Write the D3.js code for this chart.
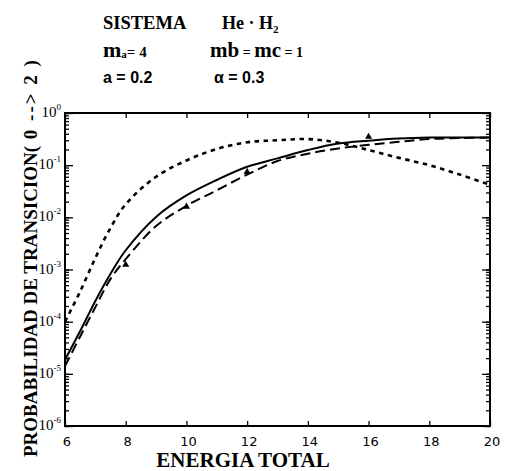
<!DOCTYPE html>
<html><head><meta charset="utf-8">
<script src="https://cdn.jsdelivr.net/npm/d3@7"></script>
<style>body{margin:0;background:#fff}</style>
</head><body>
<svg id="c" width="506" height="471"></svg>
<script>
const xTicks = [6, 8, 10, 12, 14, 16, 18, 20];
const yExps = [0, -1, -2, -3, -4, -5, -6];

const solidX = [6, 6.5, 7, 7.5, 8, 9, 10, 11, 12, 13, 14, 15, 16, 17, 18, 19, 20];
const solidY = [1.86e-5, 6.6e-5, 2.5e-4, 8.3e-4, 2.34e-3, 1.02e-2, 2.63e-2, 5.2e-2, 9.3e-2, 0.135, 0.195, 0.26, 0.295, 0.324, 0.339, 0.339, 0.339];

const longX = [6, 6.5, 7, 7.5, 8, 9, 10, 11, 12, 13, 14, 15, 16, 17, 18, 19, 20];
const longY = [1.41e-5, 5.2e-5, 1.9e-4, 6.6e-4, 1.58e-3, 6.8e-3, 1.66e-2, 3.3e-2, 6.6e-2, 0.12, 0.166, 0.209, 0.245, 0.28, 0.316, 0.33, 0.339];

const shortX = [6, 6.5, 7, 7.5, 8, 9, 10, 11, 12, 13, 14, 15, 16, 17, 18, 19, 20];
const shortY = [1.0e-4, 3.8e-4, 1.66e-3, 6.3e-3, 1.78e-2, 6.0e-2, 0.123, 0.204, 0.275, 0.30, 0.316, 0.27, 0.195, 0.138, 0.10, 0.066, 0.042];

const markX = [8, 10, 12, 16];
const markY = [1.23e-3, 1.6e-2, 7.4e-2, 0.35];

const L = 65, R = 490, T = 113, B = 426;
const svg = d3.select('#c');
const x = d3.scaleLinear().domain([6, 20]).range([L, R]);
const y = d3.scaleLog().domain([1e-6, 1]).range([B, T]);
const serif = "'Liberation Serif','Times New Roman',serif";

// frame
svg.append('rect').attr('x', L).attr('y', T).attr('width', R - L).attr('height', B - T)
  .attr('fill', 'none').attr('stroke', '#000').attr('stroke-width', 2);

// minor ticks on log axes
const minors = [];
for (let e = -6; e < 0; e++) for (let m = 1; m < 10; m++) minors.push(m * Math.pow(10, e));
minors.push(1);
const majors = yExps.map(e => Math.pow(10, e));
const gl = svg.append('g').attr('transform', `translate(${L},0)`)
  .call(d3.axisRight(y).tickValues(minors).tickSize(4).tickFormat(''));
const gr = svg.append('g').attr('transform', `translate(${R},0)`)
  .call(d3.axisLeft(y).tickValues(minors).tickSize(4).tickFormat(''));
const glM = svg.append('g').attr('transform', `translate(${L},0)`)
  .call(d3.axisRight(y).tickValues(majors).tickSize(8).tickFormat(''));
const grM = svg.append('g').attr('transform', `translate(${R},0)`)
  .call(d3.axisLeft(y).tickValues(majors).tickSize(8).tickFormat(''));
const gb = svg.append('g').attr('transform', `translate(0,${B})`)
  .call(d3.axisTop(x).tickValues(xTicks).tickSize(5).tickFormat(''));
const gt = svg.append('g').attr('transform', `translate(0,${T})`)
  .call(d3.axisBottom(x).tickValues(xTicks).tickSize(5).tickFormat(''));
[gl, gr, glM, grM, gb, gt].forEach(g => {
  g.select('.domain').remove();
  g.selectAll('line').attr('stroke', '#000').attr('stroke-width', 1.3);
});

// y tick labels
yExps.forEach(e => {
  const t = svg.append('text').attr('x', 61).attr('y', y(Math.pow(10, e)) + 4)
    .attr('text-anchor', 'end').attr('font-family', serif).attr('font-size', 15).attr('fill', '#000');
  t.append('tspan').text('10');
  t.append('tspan').attr('dy', -7).attr('font-size', 9).text(e === 0 ? '0' : '-' + (-e));
});
// x tick labels
xTicks.forEach(v => {
  svg.append('text').attr('x', x(v) + 2).attr('y', 446).attr('text-anchor', 'middle')
    .attr('font-family', "'DejaVu Sans',sans-serif").attr('font-size', 13).attr('fill', '#000').text(v);
});

// curves
const line = d3.line().x(d => x(d[0])).y(d => y(d[1])).curve(d3.curveCatmullRom.alpha(0.5));
const draw = (xs, ys, dash, w) => svg.append('path').datum(xs.map((v, i) => [v, ys[i]]))
  .attr('d', line).attr('fill', 'none').attr('stroke', '#000').attr('stroke-width', w)
  .attr('stroke-dasharray', dash);
draw(solidX, solidY, null, 2);
draw(longX, longY, '10,5', 2);
draw(shortX, shortY, '4.5,4.5', 2.6);

// markers
svg.selectAll('.mk').data(markX.map((v, i) => [v, markY[i]])).enter().append('path')
  .attr('d', d3.symbol(d3.symbolTriangle, 22))
  .attr('transform', d => `translate(${x(d[0])},${y(d[1])})`).attr('fill', '#000');

// title block
const tb = (tx, ty, size, fam, txt) => svg.append('text').attr('x', tx).attr('y', ty)
  .attr('font-family', fam).attr('font-size', size).attr('font-weight', 'bold').attr('fill', '#000').text(txt);
tb(103, 29, 18.5, serif, 'SISTEMA');
const he = tb(222, 29, 18, serif, 'He · H');
he.append('tspan').attr('dy', 4).attr('font-size', 11).text('2');
const m1 = tb(103, 57, 22, serif, 'm');
m1.append('tspan').attr('font-size', 11).attr('dy', 1).text('a');
m1.append('tspan').attr('font-size', 15).attr('dy', -1).text('= 4');
const m2 = tb(210, 57, 21, serif, 'mb');
m2.append('tspan').attr('font-size', 14).text(' = ');
m2.append('tspan').text('mc');
m2.append('tspan').attr('font-size', 14).text(' = 1');
tb(103, 83, 16, "'Liberation Sans',Arial,sans-serif", 'a = 0.2');
tb(214, 83, 16, "'Liberation Sans',Arial,sans-serif", 'α = 0.3');

// axis titles
svg.append('text').attr('x', 243).attr('y', 467).attr('text-anchor', 'middle')
  .attr('font-family', serif).attr('font-size', 21).attr('font-weight', 'bold').attr('fill', '#000')
  .text('ENERGIA TOTAL');
const yl = svg.append('text').attr('transform', 'translate(37,457) rotate(-90)')
  .attr('font-family', serif).attr('font-size', 19).attr('font-weight', 'bold').attr('fill', '#000');
yl.append('tspan').text('PROBABILIDAD DE TRANSICION(');
yl.append('tspan').attr('letter-spacing', 2).text(' 0 --> 2 )');
</script>
</body></html>
